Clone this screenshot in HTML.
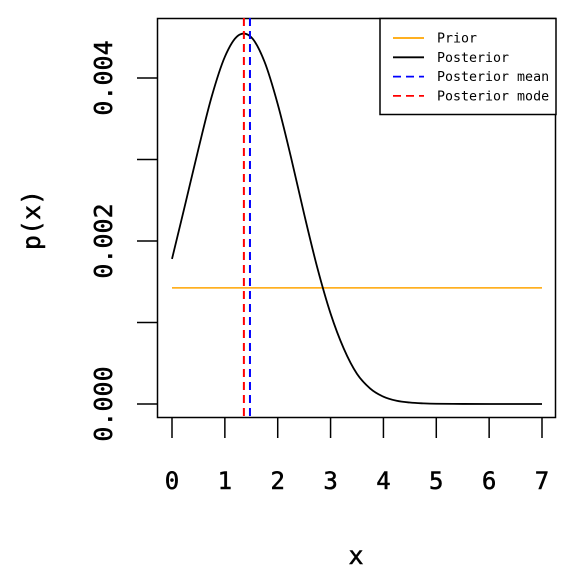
<!DOCTYPE html>
<html><head><meta charset="utf-8"><style>
html,body{margin:0;padding:0;background:#fff;}
svg{display:block;font-family:"DejaVu Sans Mono","Liberation Mono",monospace;}
</style></head><body>
<svg id="chart" width="576" height="576" viewBox="0 0 576 576"></svg>
<script>
const xVals = [0,0.25,0.5,0.75,1,1.25,1.5,1.75,2,2.25,2.5,2.75,3,3.25,3.5,3.75,4,4.25,4.5,4.75,5,5.5,6,6.5,7];
const posterior = [0.00178,0.00245,0.00313,0.00377,0.00426,0.00452,0.00450,0.00420,0.00368,0.00303,0.00233,0.00167,0.00111,0.00068,0.00037,0.00019,0.00009,0.00004,0.000018,0.000008,0.000003,0.000001,0,0,0];
const priorValue = 0.001425;
const priorRange = [0,7];
const posteriorMean = 1.475;
const posteriorMode = 1.36;
const xTicks = [0,1,2,3,4,5,6,7];
const yTicks = [0,0.001,0.002,0.003,0.004];
const yTickLabels = ["0.000","","0.002","","0.004"];

const NS="http://www.w3.org/2000/svg";
const svg=document.getElementById('chart');
const X=v=>172+v*(542-172)/7;
const Y=v=>404-v*81500;
function mk(tag,attrs,parent){const e=document.createElementNS(NS,tag);for(const k in attrs)e.setAttribute(k,attrs[k]);(parent||svg).appendChild(e);return e;}

let box=mk('rect',{x:157.5,y:18.5,width:398,height:399,fill:'none',stroke:'#000','stroke-width':1.5});



yTicks.forEach((t,i)=>{
  const l=mk('line',{x1:137,x2:157,y1:Y(t),y2:Y(t),stroke:'#000','stroke-width':1.5});
  
  
  if(yTickLabels[i]){
    const tx=mk('text',{x:0,y:0,'font-size':25,'text-anchor':'middle',stroke:'#000','stroke-width':0.5,transform:`translate(112,${Y(t)}) rotate(-90)`});
    tx.textContent=yTickLabels[i];
    
    
  }
});
xTicks.forEach(t=>{
  const l=mk('line',{x1:X(t),x2:X(t),y1:418,y2:438,stroke:'#000','stroke-width':1.5});
  
  
  const tx=mk('text',{x:X(t),y:489,'font-size':24,'text-anchor':'middle',stroke:'#000','stroke-width':0.5});
  tx.textContent=t;
  
  
});
let xt=mk('text',{x:356,y:564,'font-size':25,'text-anchor':'middle',stroke:'#000','stroke-width':0.5});xt.textContent='x';


let yt=mk('text',{x:0,y:0,'font-size':25,'text-anchor':'middle',stroke:'#000','stroke-width':0.5,transform:'translate(40,220) rotate(-90)'});yt.textContent='p(x)';



let pr=mk('line',{x1:X(priorRange[0]),x2:X(priorRange[1]),y1:Y(priorValue),y2:Y(priorValue),stroke:'#FFA500','stroke-width':1.5});



const pts=xVals.map((x,i)=>[X(x),Y(posterior[i])]);
let d=`M${pts[0][0]},${pts[0][1]}`;
for(let i=0;i<pts.length-1;i++){
  const p0=pts[Math.max(0,i-1)],p1=pts[i],p2=pts[i+1],p3=pts[Math.min(pts.length-1,i+2)];
  const c1=[p1[0]+(p2[0]-p0[0])/6,p1[1]+(p2[1]-p0[1])/6];
  const c2=[p2[0]-(p3[0]-p1[0])/6,p2[1]-(p3[1]-p1[1])/6];
  d+=` C${c1[0]},${c1[1]} ${c2[0]},${c2[1]} ${p2[0]},${p2[1]}`;
}
let po=mk('path',{d,fill:'none',stroke:'#000','stroke-width':1.8});



let mn=mk('line',{x1:X(posteriorMean),x2:X(posteriorMean),y1:18,y2:418,stroke:'#0000FF','stroke-width':2,'stroke-dasharray':'8,5'});


let mo=mk('line',{x1:X(posteriorMode),x2:X(posteriorMode),y1:18,y2:418,stroke:'#FF0000','stroke-width':2,'stroke-dasharray':'8,5'});



const lg=mk('g',{});


mk('rect',{x:380,y:18.5,width:176,height:96,fill:'#fff',stroke:'#000','stroke-width':1.5},lg);
const entries=[['Prior','#FFA500',null],['Posterior','#000',null],['Posterior mean','#0000FF','8,5'],['Posterior mode','#FF0000','8,5']];
entries.forEach((e,i)=>{
  const y=38+i*19.3;
  const g=mk('g',{},lg);
  
  
  const a={x1:393,x2:424,y1:y,y2:y,stroke:e[1],'stroke-width':1.8};
  if(e[2])a['stroke-dasharray']=e[2];
  mk('line',a,g);
  const t=mk('text',{x:437,y:y+4.5,'font-size':13.3},g);
  t.textContent=e[0];
});
</script>
</body></html>
